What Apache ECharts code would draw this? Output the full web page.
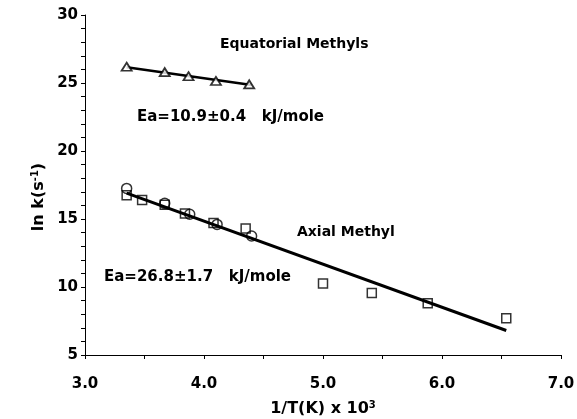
<!DOCTYPE html>
<html>
<head>
<meta charset="utf-8">
<script src="https://cdn.jsdelivr.net/npm/echarts@6/dist/echarts.min.js"></script>
<style>
  html, body { margin: 0; padding: 0; background: #fff; }
  #main { width: 577px; height: 419px; }
</style>
</head>
<body>
<div id="main"></div>
<script>
// equatorial methyls (triangles)
var eqX = [3.35, 3.67, 3.87, 4.10, 4.38];
var eqY = [26.2, 25.8, 25.5, 25.15, 24.9];
var eqFitX = [3.35, 4.40];
var eqFitY = [26.15, 24.85];

// axial methyl: circles and squares
var axCircX = [3.35, 3.67, 3.88, 4.11, 4.40];
var axCircY = [17.25, 16.15, 15.35, 14.6, 13.75];
var axSqX = [3.35, 3.48, 3.67, 3.84, 4.08, 4.35, 5.00, 5.41, 5.88, 6.54];
var axSqY = [16.75, 16.4, 16.05, 15.4, 14.7, 14.3, 10.25, 9.55, 8.8, 7.7];
var axFitX = [3.35, 6.54];
var axFitY = [16.9, 6.8];

var font = '"DejaVu Sans", sans-serif';

function pairs(xs, ys) {
    var out = [];
    for (var i = 0; i < xs.length; i++) out.push([xs[i], ys[i]]);
    return out;
}

var chart = echarts.init(document.getElementById('main'));

var supStyle = { fontFamily: font, fontWeight: 'bold', fontSize: 10, verticalAlign: 'bottom', padding: [0, 0, 8, 0] };

var option = {
    animation: false,
    backgroundColor: '#fff',
    grid: { left: 85, right: 16, top: 15, bottom: 64, containLabel: false, outerBoundsMode: 'none' },
    xAxis: {
        type: 'value', min: 3, max: 7, interval: 1,
        name: '1/T(K) x 10{sup|3}',
        nameLocation: 'middle', nameGap: 45,
        nameTextStyle: {
            fontFamily: font, fontWeight: 'bold', fontSize: 16, color: '#000',
            rich: { sup: supStyle }
        },
        axisLine: { lineStyle: { color: '#000', width: 1 } },
        axisTick: { inside: false, length: 4, lineStyle: { color: '#000' } },
        minorTick: { show: true, splitNumber: 2, length: 4, lineStyle: { color: '#000' } },
        splitLine: { show: false },
        axisLabel: {
            margin: 22, fontFamily: font, fontWeight: 'bold', fontSize: 15, color: '#000',
            formatter: function (v) { return v.toFixed(1); }
        }
    },
    yAxis: {
        type: 'value', min: 5, max: 30, interval: 5,
        axisLine: { show: true, lineStyle: { color: '#000', width: 1 } },
        axisTick: { show: true, inside: false, length: 4, lineStyle: { color: '#000' } },
        minorTick: { show: true, splitNumber: 5, length: 4, lineStyle: { color: '#000' } },
        splitLine: { show: false },
        axisLabel: { margin: 7, padding: [5, 0, 0, 0], fontFamily: font, fontWeight: 'bold', fontSize: 15, color: '#000' }
    },
    series: [
        {
            type: 'line', data: pairs(eqFitX, eqFitY), symbol: 'none', z: 2,
            lineStyle: { color: '#000', width: 2.5 }
        },
        {
            type: 'line', data: pairs(axFitX, axFitY), symbol: 'none', z: 2,
            lineStyle: { color: '#000', width: 3 }
        },
        {
            type: 'scatter', data: pairs(eqX, eqY), symbol: 'triangle', symbolSize: [10, 8], z: 3,
            itemStyle: { color: '#fff', borderColor: '#000', borderWidth: 1.8 }
        },
        {
            type: 'scatter', data: pairs(axSqX, axSqY), symbol: 'rect', symbolSize: 9, z: 3,
            itemStyle: { color: 'rgba(255,255,255,0)', borderColor: '#000', borderWidth: 1.5 }
        },
        {
            type: 'scatter', data: pairs(axCircX, axCircY), symbol: 'circle', symbolSize: 10, z: 3,
            itemStyle: { color: 'rgba(255,255,255,0)', borderColor: '#000', borderWidth: 1.5 }
        }
    ],
    graphic: [
        {
            type: 'text', x: 39, y: 197, rotation: Math.PI / 2,
            style: {
                text: 'ln k(s{sup|-1})', font: 'bold 16px ' + font, fill: '#000',
                align: 'center', verticalAlign: 'middle',
                rich: { sup: supStyle }
            }
        },
        { type: 'text', left: 220, top: 37, style: { text: 'Equatorial Methyls', font: 'bold 14px ' + font, fill: '#000' } },
        { type: 'text', left: 137, top: 110, style: { text: 'Ea=10.9\u00b10.4   kJ/mole', font: 'bold 15px ' + font, fill: '#000' } },
        { type: 'text', left: 297, top: 225, style: { text: 'Axial Methyl', font: 'bold 14px ' + font, fill: '#000' } },
        { type: 'text', left: 104, top: 270, style: { text: 'Ea=26.8\u00b11.7   kJ/mole', font: 'bold 15px ' + font, fill: '#000' } }
    ]
};

chart.setOption(option);
</script>
</body>
</html>
